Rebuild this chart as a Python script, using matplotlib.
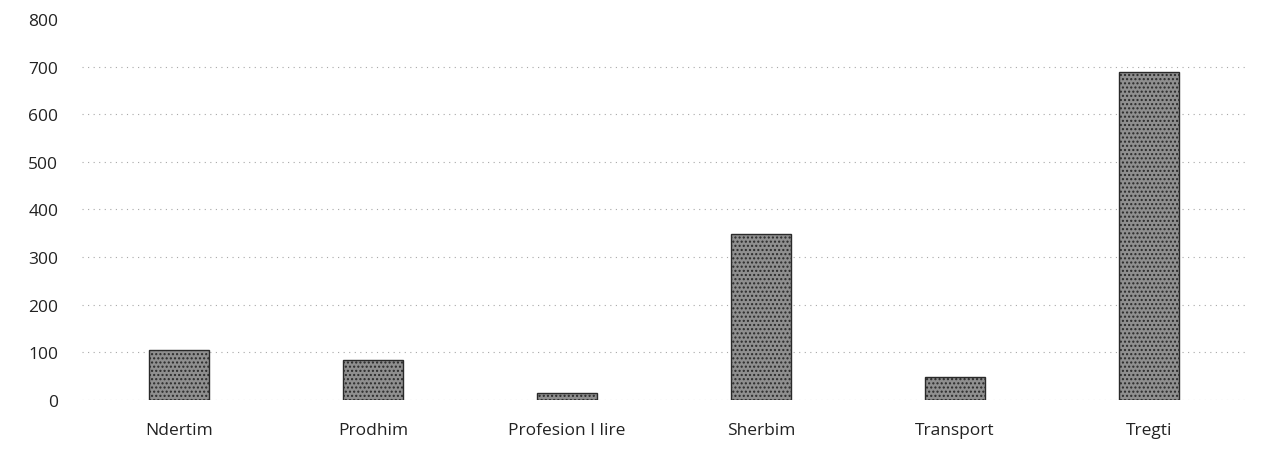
import matplotlib
matplotlib.use("Agg")
import matplotlib.pyplot as plt

categories = ["Ndertim", "Prodhim", "Profesion I lire", "Sherbim", "Transport", "Tregti"]
values = [104, 84, 14, 349, 48, 688]
yticks = [0, 100, 200, 300, 400, 500, 600, 700, 800]

plt.rcParams['font.family'] = ['Open Sans', 'DejaVu Sans']
plt.rcParams['hatch.color'] = '#c4c4c4'

fig = plt.figure(figsize=(12.61, 4.52), dpi=100)
ax = fig.add_axes([0.065, 0.1128, 0.923, 0.843])

ax.bar(range(len(categories)), values, width=0.31, color='#8f8f8f',
       edgecolor='#2a2a2a', linewidth=1.0, zorder=3, hatch='....')

ax.set_xlim(-0.5, len(categories) - 0.5)
ax.set_ylim(0, 800)
ax.set_yticks(yticks)
ax.set_yticklabels([str(t) for t in yticks])
ax.set_xticks(range(len(categories)))
ax.set_xticklabels(categories)

for t in yticks[:-1]:
    ax.axhline(t, linestyle=(0, (1, 4)), color='#a8a8a8', linewidth=0.8, zorder=1)
for s in ax.spines.values():
    s.set_visible(False)
ax.tick_params(axis='both', length=0, labelsize=12.5, colors='#222222')
ax.tick_params(axis='y', pad=17)
ax.tick_params(axis='x', pad=16)

fig.savefig("out.png", dpi=100)
